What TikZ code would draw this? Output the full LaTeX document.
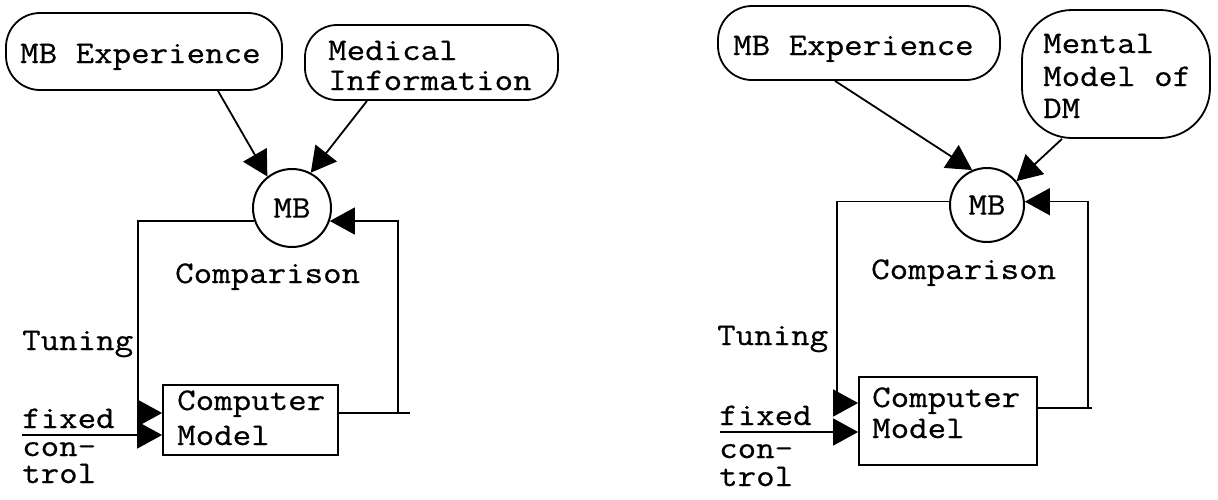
\documentclass[tikz,border=0pt]{standalone}
\usepackage{fontspec}
\newfontfamily\twfont[FakeStretch=1.14, FakeBold=0.6]{Latin Modern Mono}
\usetikzlibrary{arrows.meta}
\begin{document}
\begin{tikzpicture}[x=1pt,y=-1pt,
  every node/.style={font=\twfont\fontsize{31.5}{32}\selectfont, inner sep=0pt},
  pill/.style={draw, line width=1.8pt, rectangle, rounded corners=#1},
  pill/.default=34,
  bubble/.style={draw, line width=2pt, circle},
  modelbox/.style={draw, line width=1.8pt, rectangle},
  txt/.style={anchor=base west},
  feed/.style={line width=1.5pt},
  arr/.style={line width=1.8pt, -{Triangle[length=25pt,width=27pt]}},
  feedarr/.style={line width=1.5pt, -{Triangle[length=25pt,width=27pt]}}]
\useasboundingbox (0,0) rectangle (1218,499);

% ---------------- left loop ----------------
\node[pill=34, minimum width=276, minimum height=77] (mbexpL) at (144,51.5) {};
\node[txt] (tMbexpL) at (20,63) {MB Experience};
\node[pill=32, minimum width=253, minimum height=75] (medL) at (431.5,62.5) {};
\node[txt] (tMedL1) at (328,60) {Medical};
\node[txt] (tMedL2) at (328,90) {Information};

\node[bubble, minimum size=78] (mbL) at (292,208) {MB};
\node[txt] (cmpL) at (175,283) {Comparison};
\node[txt] (tunTxtL) at (22,350) {Tuning};

\node[modelbox, minimum width=175, minimum height=70] (boxL) at (250.5,420) {};
\node[txt] (tCompL) at (177,410) {Computer};
\node[txt] (tModL) at (177,445) {Model};

\node[txt] (fixTxtL) at (22,428) {fixed};
\node[txt] (conL) at (22,456) {con-};
\node[txt] (trolL) at (22,483) {trol};

\draw[arr] ([xshift=74]mbexpL.south) -- (mbL.128);
\draw[arr] ([xshift=-64.5]medL.south) -- (mbL.62);

\coordinate (tunL) at (138,413);
\draw[feedarr] (mbL.199.5) -| (tunL) -- (tunL -| boxL.west);
\coordinate (fixL) at (22,435);
\draw[feedarr] (fixL) -- (fixL -| boxL.west);
\coordinate (retL) at (398,413);
\coordinate (retEndL) at (410,413);
\draw[feed] (boxL.east |- retL) -- (retEndL);
\draw[feedarr] (retL) |- (mbL.-19.5);

% ---------------- right loop ----------------
\node[pill=34, minimum width=282, minimum height=74] (mbexpR) at (859,43) {};
\node[txt] (tMbexpR) at (733,55) {MB Experience};
\node[pill=50, minimum width=188, minimum height=128] (mentR) at (1116,74) {};
\node[txt] (tMentR1) at (1043,53) {Mental};
\node[txt] (tMentR2) at (1043,86) {Model of};
\node[txt] (tMentR3) at (1043,118) {DM};

\node[bubble, minimum size=74] (mbR) at (987,205) {MB};
\node[txt] (cmpR) at (871,279) {Comparison};
\node[txt] (tunTxtR) at (717,345) {Tuning};

\node[modelbox, minimum width=178, minimum height=88] (boxR) at (948,421) {};
\node[txt] (tCompR) at (872,407) {Computer};
\node[txt] (tModR) at (872,438) {Model};

\node[txt] (fixTxtR) at (719,425) {fixed};
\node[txt] (conR) at (719,458) {con-};
\node[txt] (trolR) at (719,486) {trol};

\draw[arr] ([xshift=-24]mbexpR.south) -- (mbR.113);
\draw[arr] ([xshift=-54]mentR.south) -- (mbR.39);

\coordinate (tunR) at (837,403);
\draw[feedarr] (mbR.175) -| (tunR) -- (tunR -| boxR.west);
\coordinate (fixR) at (720,432);
\draw[feedarr] (fixR) -- (fixR -| boxR.west);
\coordinate (retR) at (1088,408);
\coordinate (retEndR) at (1092,408);
\draw[feed] (boxR.east |- retR) -- (retEndR);
\draw[feedarr] (retR) |- (mbR.5);
\end{tikzpicture}
\end{document}
